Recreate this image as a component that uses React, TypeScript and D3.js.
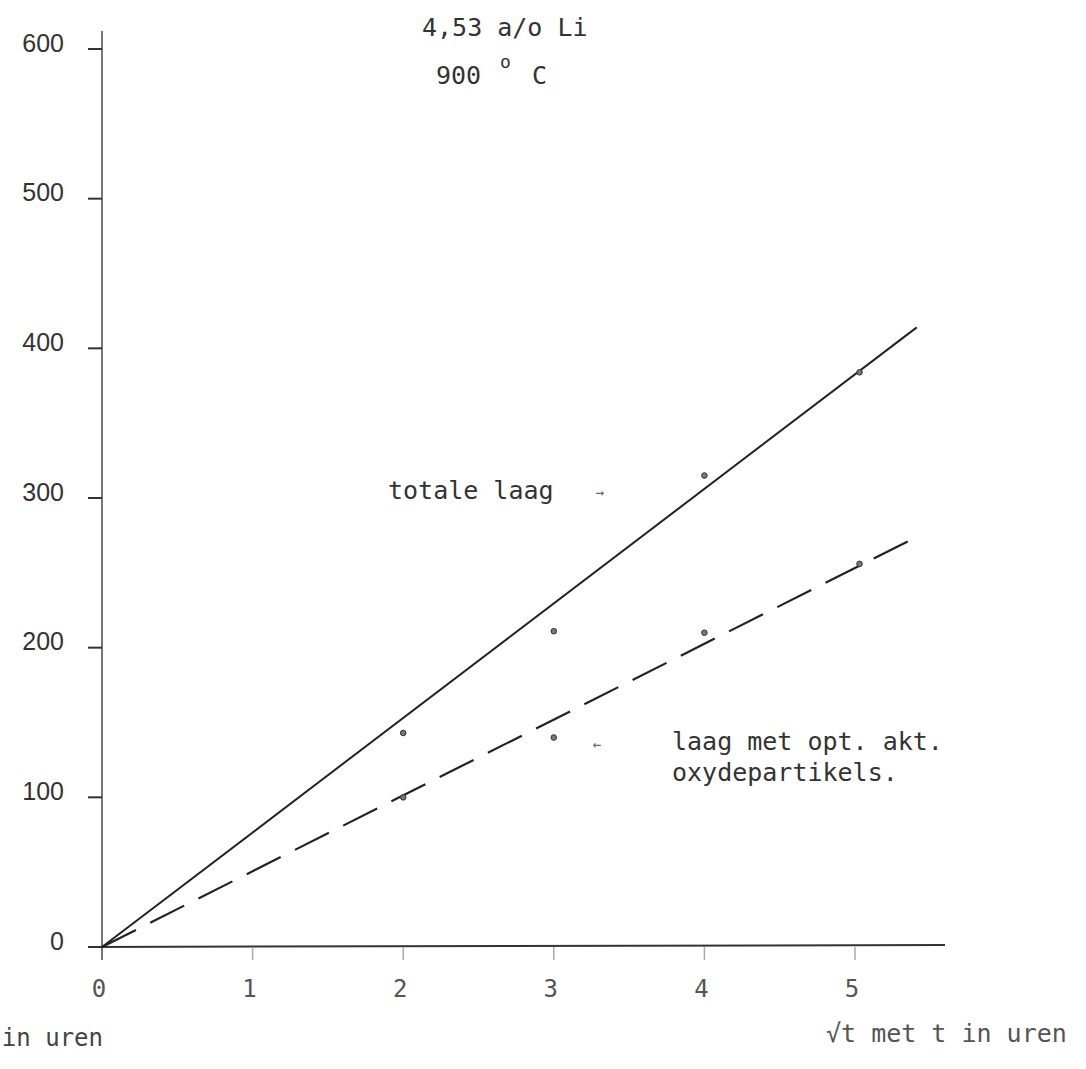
import React from "react";
import * as d3 from "d3";

// sqrt(t) in hours vs layer thickness
const yTicks = [0, 100, 200, 300, 400, 500, 600];
const xTicks = [0, 1, 2, 3, 4, 5];

// measured points
const totalPoints: [number, number][] = [
  [2.0, 143],
  [3.0, 211],
  [4.0, 315],
  [5.03, 384],
];
const oxidePoints: [number, number][] = [
  [2.0, 100],
  [3.0, 140],
  [4.0, 210],
  [5.03, 256],
];

// fitted straight lines (drawn through origin)
const totalFit: [number, number][] = [
  [0, 0],
  [5.41, 414],
];
const oxideFit: [number, number][] = [
  [0, 0],
  [5.41, 274],
];

const W = 1086;
const H = 1069;
const mono = "'DejaVu Sans Mono', 'Liberation Mono', monospace";
const sans = "'Liberation Sans', Arial, sans-serif";

const App = () => {
  const x = d3.scaleLinear().domain([0, 5]).range([102, 855]);
  const y = d3.scaleLinear().domain([0, 600]).range([947, 49]);

  const line = d3
    .line<[number, number]>()
    .x((d) => x(d[0]))
    .y((d) => y(d[1]));

  return (
    <svg
      width={W}
      height={H}
      style={{ position: "absolute", left: 0, top: 0, background: "#fff" }}
    >
      {/* y axis */}
      <line x1={x(0)} x2={x(0)} y1={31} y2={960} stroke="#777" strokeWidth={2} />
      {yTicks.map((t) => (
        <g key={"y" + t}>
          <line x1={x(0) - 14} x2={x(0)} y1={y(t)} y2={y(t)} stroke="#333" strokeWidth={2} />
          <text
            x={64}
            y={y(t) - 4}
            textAnchor="end"
            dominantBaseline="middle"
            fontFamily={sans}
            fontSize={25}
            fill="#333"
          >
            {t}
          </text>
        </g>
      ))}

      {/* x axis */}
      <line x1={92} x2={945} y1={y(0)} y2={y(0) - 2} stroke="#333" strokeWidth={2} />
      {xTicks.map((t) => (
        <g key={"x" + t}>
          {t > 0 && (
            <line x1={x(t)} x2={x(t)} y1={y(0)} y2={y(0) + 13} stroke="#aaa" strokeWidth={1.5} />
          )}
          <text
            x={x(t) - 3}
            y={y(0) + 43}
            textAnchor="middle"
            dominantBaseline="middle"
            fontFamily={mono}
            fontSize={24}
            fill="#555"
          >
            {t}
          </text>
        </g>
      ))}

      {/* fitted lines */}
      <path d={line(totalFit) || ""} fill="none" stroke="#222" strokeWidth={2} />
      <path
        d={line(oxideFit) || ""}
        fill="none"
        stroke="#222"
        strokeWidth={2.2}
        strokeDasharray="38 16"
      />

      {/* measured points */}
      {totalPoints.concat(oxidePoints).map((p, i) => (
        <circle key={"p" + i} cx={x(p[0])} cy={y(p[1])} r={2.8} fill="#777" stroke="#333" strokeWidth={1} />
      ))}

      {/* title */}
      <text x={422} y={36} fontFamily={mono} fontSize={25} fill="#333">
        4,53 a/o Li
      </text>
      <text x={436} y={84} fontFamily={mono} fontSize={25} fill="#333">
        900
      </text>
      <text x={500} y={68} fontFamily={mono} fontSize={18} fill="#333">
        o
      </text>
      <text x={532} y={84} fontFamily={mono} fontSize={25} fill="#333">
        C
      </text>

      {/* annotations */}
      <text x={388} y={499} fontFamily={mono} fontSize={25} fill="#333">
        totale laag
      </text>
      <text x={600} y={497} textAnchor="middle" fontFamily={mono} fontSize={14} fill="#666">
        →
      </text>
      <text x={597} y={749} textAnchor="middle" fontFamily={mono} fontSize={14} fill="#666">
        ←
      </text>
      <text x={672} y={750} fontFamily={mono} fontSize={25} fill="#333">
        laag met opt. akt.
      </text>
      <text x={672} y={781} fontFamily={mono} fontSize={25} fill="#333">
        oxydepartikels.
      </text>

      {/* axis titles */}
      <text x={103} y={1046} textAnchor="end" fontFamily={mono} fontSize={24} fill="#444">
        in uren
      </text>
      <text x={826} y={1042} fontFamily={mono} fontSize={25} fill="#555">
        √t met t in uren
      </text>
    </svg>
  );
};

export default App;
